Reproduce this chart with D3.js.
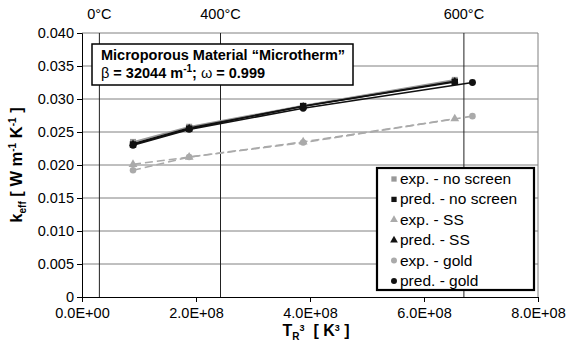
<!DOCTYPE html>
<html>
<head>
<meta charset="utf-8">
<script src="https://cdn.jsdelivr.net/npm/d3@7"></script>
<style>
  body { margin: 0; background: #fff; }
  svg { font-family: "Liberation Sans", Arial, sans-serif; }
</style>
</head>
<body>
<div id="chart"></div>
<script>
// T_R^3 positions of the measurements
const xMain = [8.95e7, 1.88e8, 3.88e8, 6.54e8];
const xGold = [8.95e7, 1.88e8, 3.88e8, 6.85e8];

const expNoScreen = [0.0235, 0.0258, 0.0290, 0.0329];
const predNoScreen = [0.0231, 0.0255, 0.0289, 0.0326];
const expSS = [0.0201, 0.0212, 0.0235, 0.0270];
const predSS = [0.0232, 0.0256, 0.0289, 0.0327];
const expGold = [0.0192, 0.0212, 0.0234, 0.0274];
const predGold = [0.0230, 0.0254, 0.0286, 0.0325];

// temperature reference lines on the top axis
const tempLabels = ["0°C", "400°C", "600°C"];
const tempX = [3.05e7, 2.43e8, 6.70e8];

const yTicks = [0, 0.005, 0.01, 0.015, 0.02, 0.025, 0.03, 0.035, 0.04];
const xTicks = [0, 2e8, 4e8, 6e8, 8e8];

const width = 566, height = 354;
const svg = d3.select("#chart").append("svg")
  .attr("width", width).attr("height", height);

const x = d3.scaleLinear().domain([0, 8e8]).range([82, 538]);
const y = d3.scaleLinear().domain([0, 0.04]).range([297, 33]);

const fs = "14.5px";

// horizontal gridlines
svg.append("g").selectAll("line")
  .data(yTicks.slice(1))
  .join("line")
  .attr("x1", x(0)).attr("x2", x(8e8))
  .attr("y1", d => y(d)).attr("y2", d => y(d))
  .attr("stroke", "#808080").attr("stroke-width", 1);

// right border
svg.append("line")
  .attr("x1", x(8e8)).attr("x2", x(8e8))
  .attr("y1", y(0.04)).attr("y2", y(0))
  .attr("stroke", "#808080");

// temperature lines + labels
svg.append("g").selectAll("line")
  .data(tempX)
  .join("line")
  .attr("x1", d => x(d)).attr("x2", d => x(d))
  .attr("y1", y(0.04)).attr("y2", y(0))
  .attr("stroke", "#222").attr("stroke-width", 1);

svg.append("g").selectAll("text")
  .data(tempLabels)
  .join("text")
  .attr("x", (d, i) => x(tempX[i]))
  .attr("y", 19)
  .attr("text-anchor", "middle")
  .style("font-size", fs)
  .text(d => d);

// axes
const yAxis = d3.axisLeft(y).tickValues(yTicks).tickSize(5)
  .tickFormat(d => d === 0 ? "0" : d3.format(".3f")(d));
svg.append("g").attr("transform", `translate(${x(0)},0)`).call(yAxis)
  .call(g => g.selectAll("text").style("font-size", fs).attr("fill", "#000"))
  .call(g => g.select(".domain").attr("stroke", "#000"));

const fmtE = d => {
  if (d === 0) return "0.0E+00";
  return d.toExponential(1).toUpperCase().replace(/E\+(\d)$/, "E+0$1");
};
const xAxis = d3.axisBottom(x).tickValues(xTicks).tickSize(5).tickFormat(fmtE);
svg.append("g").attr("transform", `translate(0,${y(0)})`).call(xAxis)
  .call(g => g.selectAll("text").style("font-size", fs).attr("fill", "#000").attr("dy", "0.9em"))
  .call(g => g.select(".domain").attr("stroke", "#000"));

// axis titles
const yt = svg.append("text")
  .attr("transform", `translate(22,${(y(0) + y(0.04)) / 2}) rotate(-90)`)
  .attr("text-anchor", "middle")
  .style("font-size", "16.5px").style("font-weight", "bold");
yt.append("tspan").text("k");
yt.append("tspan").attr("dy", 4).style("font-size", "10px").text("eff");
yt.append("tspan").attr("dy", -4).text(" [ W m");
yt.append("tspan").attr("dy", -6).style("font-size", "10px").text("-1");
yt.append("tspan").attr("dy", 6).text(" K");
yt.append("tspan").attr("dy", -6).style("font-size", "10px").text("-1");
yt.append("tspan").attr("dy", 6).text(" ]");

const xt = svg.append("text")
  .attr("x", (x(0) + x(8e8)) / 2 + 6).attr("y", 336)
  .attr("text-anchor", "middle")
  .style("font-size", "16px").style("font-weight", "bold")
  .style("white-space", "pre");
xt.append("tspan").text("T");
xt.append("tspan").attr("dy", 4).style("font-size", "10px").text("R");
xt.append("tspan").attr("dy", -9).style("font-size", "9px").text("3");
xt.append("tspan").attr("dy", 5).text("  [ K");
xt.append("tspan").attr("dy", -5).style("font-size", "9px").text("3");
xt.append("tspan").attr("dy", 5).text(" ]");

// series
const series = [
  { name: "exp. - no screen", xs: xMain, ys: expNoScreen, color: "#999", shape: d3.symbolSquare, size: 36, dash: null },
  { name: "pred. - no screen", xs: xMain, ys: predNoScreen, color: "#111", shape: d3.symbolSquare, size: 42, dash: null },
  { name: "exp. - SS", xs: xMain, ys: expSS, color: "#aaa", shape: d3.symbolTriangle, size: 34, dash: "8,4" },
  { name: "pred. - SS", xs: xMain, ys: predSS, color: "#111", shape: d3.symbolTriangle, size: 24, dash: null },
  { name: "exp. - gold", xs: xGold, ys: expGold, color: "#aaa", shape: d3.symbolCircle, size: 34, dash: "8,4" },
  { name: "pred. - gold", xs: xGold, ys: predGold, color: "#111", shape: d3.symbolCircle, size: 38, dash: null }
];

const line = d3.line().x(d => x(d[0])).y(d => y(d[1]));
series.forEach(s => {
  const pts = s.xs.map((v, i) => [v, s.ys[i]]);
  svg.append("path").datum(pts)
    .attr("d", line)
    .attr("fill", "none")
    .attr("stroke", s.color)
    .attr("stroke-width", 1.6)
    .attr("stroke-dasharray", s.dash);
});

// markers: draw pred SS under the pred squares
const markerOrder = [0, 2, 3, 1, 4, 5];
markerOrder.forEach(k => {
  const s = series[k];
  svg.append("g").selectAll("path")
    .data(s.xs.map((v, i) => [v, s.ys[i]]))
    .join("path")
    .attr("transform", d => `translate(${x(d[0])},${y(d[1])})`)
    .attr("d", d3.symbol().type(s.shape).size(s.size))
    .attr("fill", s.color);
});

// annotation box
const ann = svg.append("g");
ann.append("rect")
  .attr("x", 92).attr("y", 44).attr("width", 261).attr("height", 41)
  .attr("fill", "#fff").attr("stroke", "#000").attr("stroke-width", 1.5);
ann.append("text").attr("x", 101).attr("y", 60)
  .style("font-size", fs).style("font-weight", "bold")
  .text("Microporous Material “Microtherm”");
const l2 = ann.append("text").attr("x", 101).attr("y", 78)
  .style("font-size", fs).style("font-weight", "bold");
l2.append("tspan").style("font-weight", "normal").text("β");
l2.append("tspan").text(" = 32044 m");
l2.append("tspan").attr("dy", -6).style("font-size", "10px").text("-1");
l2.append("tspan").attr("dy", 6).text("; ");
l2.append("tspan").style("font-weight", "normal").text("ω");
l2.append("tspan").text(" = 0.999");

// legend
const lg = svg.append("g");
lg.append("rect")
  .attr("x", 377).attr("y", 168).attr("width", 157).attr("height", 122)
  .attr("fill", "#fff").attr("stroke", "#000").attr("stroke-width", 2.2);
series.forEach((s, i) => {
  const cy = 179 + i * 20.4;
  lg.append("path")
    .attr("transform", `translate(394,${cy})`)
    .attr("d", d3.symbol().type(s.shape).size(s.shape === d3.symbolTriangle ? 26 : 28))
    .attr("fill", s.color);
  lg.append("text").attr("x", 400).attr("y", cy + 5)
    .style("font-size", "15.5px")
    .text(s.name);
});
</script>
</body>
</html>
